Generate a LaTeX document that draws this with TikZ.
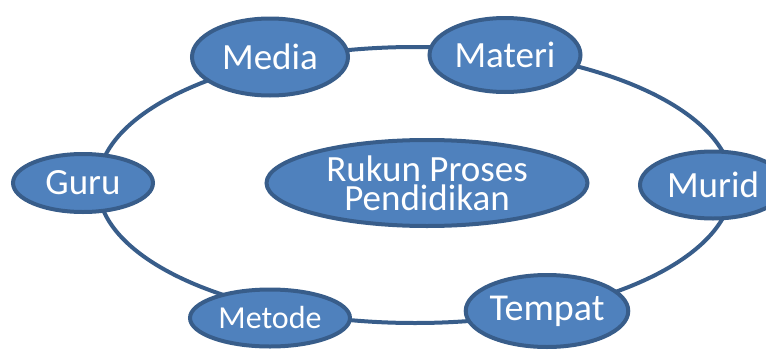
\documentclass[tikz,border=0pt]{standalone}
\usepackage{fontspec}
\setmainfont{Carlito}
\usepackage{xcolor}
\usetikzlibrary{shapes.geometric}

\definecolor{isi}{HTML}{4F81BD}
\definecolor{garis}{HTML}{385D8A}

\begin{document}
\begin{tikzpicture}[x=1pt, y=-1pt,
		bulat/.style={ellipse, draw=garis, fill=isi, line width=4pt, inner sep=0pt,
			text=white, align=center, font=\fontsize{37}{29}\selectfont}]
	\useasboundingbox (0,0) rectangle (766,351);

	\def\rx{317pt};
	\def\ry{138pt};

	% cincin yang menghubungkan semua unsur
	\coordinate (pusat) at (415,185);
	\draw[garis, line width=4pt] (pusat) ellipse [x radius=\rx, y radius=\ry];

	\node[bulat, minimum width=156pt, minimum height=77pt] (media) at (270,57) {Media};
	\node[bulat, minimum width=151pt, minimum height=74pt] (materi) at (505,55) {Materi};
	\node[bulat, minimum width=140pt, minimum height=58pt] (guru) at (83,183) {Guru};
	\node[bulat, minimum width=146pt, minimum height=67pt] (murid) at (713,185) {Murid};
	\node[bulat, minimum width=160pt, minimum height=57pt, font=\fontsize{32}{32}\selectfont] (metode) at (270,318) {Metode};
	\node[bulat, minimum width=140pt, minimum height=72pt, font=\fontsize{38}{38}\selectfont] (tempat) at (547,311) {Tempat};

	% unsur pusat
	\node[bulat, minimum width=321pt, minimum height=86pt] (rukun) at (427,183) {Rukun Proses\\Pendidikan};
\end{tikzpicture}
\end{document}
